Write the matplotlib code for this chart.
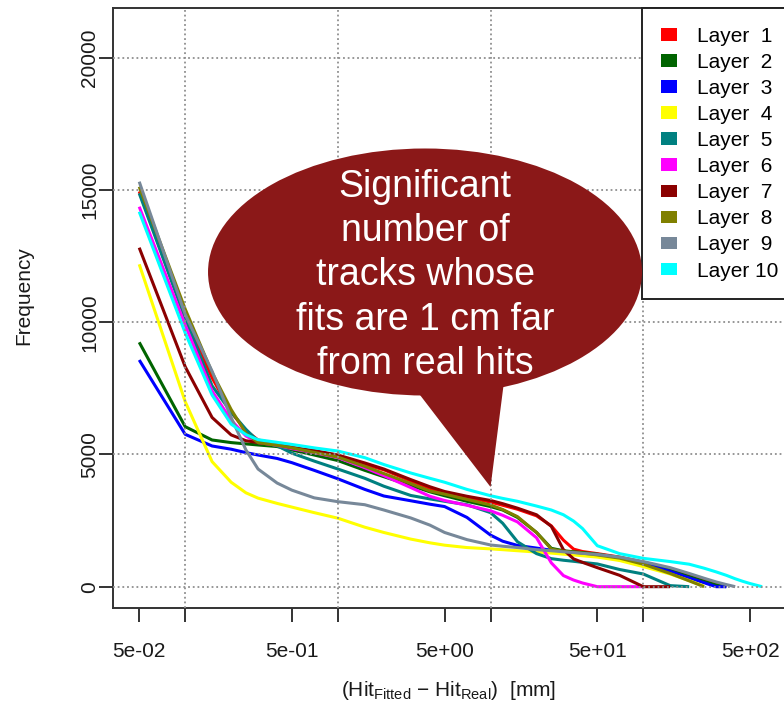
import numpy as np
import matplotlib
matplotlib.use("Agg")
import matplotlib.pyplot as plt
from matplotlib.patches import Ellipse, Polygon, Patch
from matplotlib.ticker import NullLocator

plt.rcParams['font.family'] = ['Liberation Sans', 'DejaVu Sans']
plt.rcParams['mathtext.fontset'] = 'custom'
plt.rcParams['mathtext.rm'] = 'Liberation Sans'
plt.rcParams['mathtext.it'] = 'Liberation Sans:italic'

nan = np.nan

# residual threshold (mm) at which each curve is sampled
residual_mm = [0.05, 0.1, 0.15, 0.2, 0.25, 0.3, 0.4, 0.5, 0.7, 1, 1.5, 2, 3, 4, 5, 7,
               10, 12, 15, 20, 25, 30, 35, 40, 50, 70, 100, 150, 200, 250, 300,
               350, 400, 450, 500, 600]

# frequency per layer at each residual threshold (nan = beyond last entry)
layer_1 = [14950, 10200, 7900, 6600, 5900, 5550, 5400, 5280, 5100, 4920, 4620, 4420, 4000, 3720, 3560, 3380,
           3200, 3080, 2930, 2680, 2300, 1760, 1420, 1330, 1250, 1120, 930, 680, 450, 260, 120,
           0, nan, nan, nan, nan]
layer_2 = [9243, 6052, 5548, 5450, 5400, 5360, 5300, 5170, 4980, 4770, 4400, 4160, 3830, 3590, 3440, 3230,
           3030, 2900, 2620, 2050, 1450, 1360, 1320, 1290, 1230, 1100, 900, 620, 380, 200, 70,
           0, nan, nan, nan, nan]
layer_3 = [8574, 5763, 5321, 5200, 5070, 4980, 4850, 4690, 4400, 4080, 3680, 3430, 3250, 3120, 3030, 2620,
           1950, 1720, 1560, 1460, 1380, 1320, 1270, 1230, 1160, 1020, 870, 580, 330, 150, 0,
           0, nan, nan, nan, nan]
layer_4 = [12193, 7000, 4730, 3950, 3550, 3350, 3150, 3010, 2800, 2590, 2250, 2050, 1800, 1660, 1570, 1480,
           1430, 1400, 1360, 1310, 1270, 1230, 1200, 1170, 1120, 990, 760, 480, 230, 20, nan,
           nan, nan, nan, nan, nan]
layer_5 = [14878, 10150, 7600, 6600, 5950, 5500, 5330, 5050, 4750, 4450, 4100, 3800, 3450, 3320, 3230, 3100,
           2800, 2400, 1700, 1250, 1060, 1000, 960, 920, 860, 650, 480, 40, 0, nan, nan,
           nan, nan, nan, nan, nan]
layer_6 = [14371, 9900, 7400, 6300, 5700, 5450, 5350, 5220, 5070, 4880, 4500, 4200, 3750, 3420, 3260, 3080,
           2870, 2700, 2450, 1850, 900, 420, 250, 140, 0, 0, 0, nan, nan, nan, nan,
           nan, nan, nan, nan, nan]
layer_7 = [12821, 8320, 6400, 5740, 5520, 5450, 5370, 5260, 5150, 4980, 4680, 4450, 4050, 3780, 3600, 3420,
           3260, 3140, 2970, 2720, 2280, 1400, 1050, 920, 720, 430, 0, 0, nan, nan, nan,
           nan, nan, nan, nan, nan]
layer_8 = [15128, 10500, 8100, 6700, 5800, 5450, 5350, 5250, 5080, 4900, 4550, 4280, 3900, 3620, 3500, 3300,
           3090, 2920, 2650, 2050, 1420, 1340, 1300, 1270, 1200, 1080, 850, 500, 220, 0, nan,
           nan, nan, nan, nan, nan]
layer_9 = [15317, 10300, 8150, 6400, 5170, 4450, 3920, 3650, 3360, 3215, 3100, 2900, 2600, 2330, 2050, 1780,
           1577, 1530, 1480, 1400, 1360, 1320, 1290, 1260, 1220, 1120, 950, 720, 500, 320, 180,
           80, 0, nan, nan, nan]
layer_10 = [14182, 9600, 7250, 6150, 5750, 5560, 5460, 5380, 5250, 5130, 4880, 4620, 4300, 4100, 3950, 3680,
            3440, 3340, 3230, 3050, 2900, 2720, 2480, 2200, 1550, 1250, 1072, 950, 850, 700, 560,
            430, 300, 200, 120, 0]

layers = [layer_1, layer_2, layer_3, layer_4, layer_5,
          layer_6, layer_7, layer_8, layer_9, layer_10]
layer_labels = ["Layer  1", "Layer  2", "Layer  3", "Layer  4", "Layer  5",
                "Layer  6", "Layer  7", "Layer  8", "Layer  9", "Layer 10"]
layer_colors = ["#FF0000", "#006400", "#0000FF", "#FFFF00", "#008080",
                "#FF00FF", "#8B0000", "#808000", "#778899", "#00FFFF"]

x_tick_values = [0.05, 0.1, 0.5, 1, 5, 10, 50, 100, 500]
x_tick_labels = ["5e-02", "", "5e-01", "", "5e+00", "", "5e+01", "", "5e+02"]
y_tick_values = [0, 5000, 10000, 15000, 20000]
y_tick_labels = ["0", "5000", "10000", "15000", "20000"]
x_grid = [0.1, 1, 10, 100]

W, H = 784, 711
fig = plt.figure(figsize=(W / 100, H / 100), dpi=100)
ax = fig.add_axes([113 / W, (H - 608) / H, 672 / W, 600 / H])

ax.set_xscale('log')
ax.set_xlim(0.03367, 847.7)
ax.set_ylim(-806, 21886)

x = np.array(residual_mm, dtype=float)
for vals, col in zip(layers, layer_colors):
    y = np.array(vals, dtype=float)
    ok = ~np.isnan(y)
    ax.plot(x[ok], y[ok], color=col, lw=2.2, solid_joinstyle='round',
            solid_capstyle='butt', zorder=2)

grid_kw = dict(color='#8f8f8f', lw=1.3, ls=(0, (1, 1.6)), zorder=3)
for gx in x_grid:
    ax.axvline(gx, **grid_kw)
for gy in y_tick_values:
    ax.axhline(gy, **grid_kw)

ax.xaxis.set_minor_locator(NullLocator())
ax.set_xticks(x_tick_values)
ax.set_xticklabels(x_tick_labels)
ax.set_yticks(y_tick_values)
ax.set_yticklabels(y_tick_labels, rotation=90, va='center')
ax.tick_params(axis='both', direction='out', length=10, width=1.4,
               color='#333333', labelsize=15, labelcolor='#1a1a1a')
ax.tick_params(axis='x', pad=14.5)
ax.tick_params(axis='y', pad=0)
for sp in ax.spines.values():
    sp.set_color('#333333')
    sp.set_linewidth(1.4)

ax.set_ylabel('Frequency', fontsize=15, color='#1a1a1a')
ax.yaxis.set_label_coords(-0.118, 0.52)
ax.set_xlabel(r'(Hit$_{\mathregular{Fitted}}$ $-$ Hit$_{\mathregular{Real}}$)  [mm]',
              fontsize=15, color='#1a1a1a')
ax.xaxis.set_label_coords(0.5, -0.118)

handles = [Patch(facecolor=c, edgecolor='none') for c in layer_colors]
leg = ax.legend(handles, layer_labels, loc='upper left',
                bbox_to_anchor=((642 - 113) / 672, 1.0), borderaxespad=0,
                fontsize=15, frameon=True, fancybox=False, framealpha=1,
                edgecolor='#222222', labelspacing=0.34, handlelength=0.8,
                handleheight=0.56, handletextpad=0.95, borderpad=0.9)
leg.get_frame().set_linewidth(1.4)
leg.set_zorder(5)

# speech bubble
bubble_color = '#8B1818'
ax.add_patch(Ellipse((0.4643, 0.56), 0.6458, 0.4117, transform=ax.transAxes,
                     facecolor=bubble_color, edgecolor='none', zorder=10,
                     clip_on=False))
ax.add_patch(Polygon([(0.4411, 0.378), (0.5847, 0.4023), (0.5618, 0.2017)],
                     closed=True, transform=ax.transAxes, facecolor=bubble_color,
                     edgecolor='none', zorder=10, clip_on=False))
ax.text(0.4643, 0.5542,
        "Significant\nnumber of\ntracks whose\nfits are 1 cm far\nfrom real hits",
        transform=ax.transAxes, ha='center', va='center', multialignment='center',
        fontsize=27, linespacing=1.3, color='white', zorder=11)

fig.savefig('out.png', dpi=100)
